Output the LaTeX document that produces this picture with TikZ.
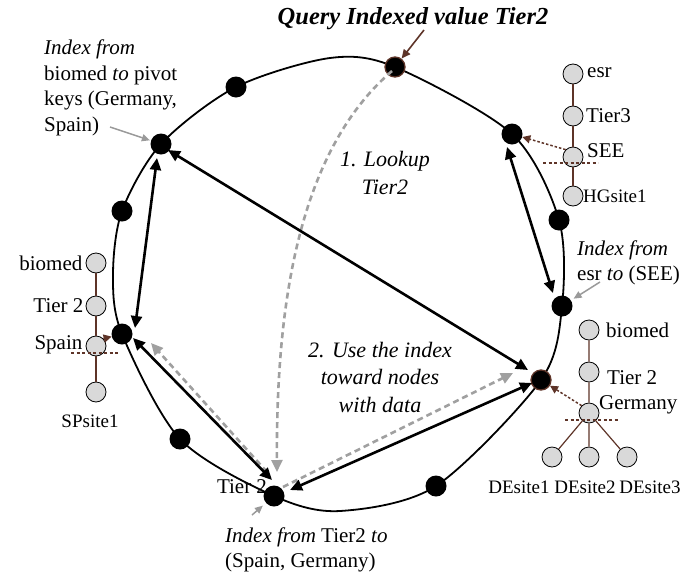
\documentclass[tikz,border=0pt]{standalone}
\usepackage{fontspec}
\setmainfont{Liberation Serif}
\usetikzlibrary{arrows.meta,calc}
\definecolor{brn}{HTML}{5E3428}
\definecolor{dashgray}{HTML}{A0A0A0}
\definecolor{ptrgray}{HTML}{9A9A9A}
\definecolor{leaf}{HTML}{D9D9D9}

\begin{document}
\begin{tikzpicture}[x=1pt,y=-1pt,
  ringdot/.style={circle,fill=black,minimum size=21pt,inner sep=0pt},
  hotdot/.style={circle,fill=black,draw=brn,line width=1.3pt,minimum size=20pt,inner sep=0pt},
  leafnode/.style={circle,fill=leaf,draw=black,line width=0.8pt,minimum size=20pt,inner sep=0pt},
  txt/.style={font=\fontsize{21}{25.5}\selectfont,inner sep=0pt},
  sitetxt/.style={font=\fontsize{19}{23}\selectfont,inner sep=0pt},
  steptxt/.style={font=\fontsize{22}{27.5}\selectfont\itshape,inner sep=0pt,align=center},
  bigarrow/.style={line width=2.6pt,{Triangle[length=12pt,width=11pt]}-{Triangle[length=12pt,width=11pt]}},
  graydash/.style={draw=dashgray,line width=2.6pt,dash pattern=on 6pt off 4pt,-{Triangle[length=12pt,width=11pt]}},
  pointer/.style={draw=ptrgray,line width=1.5pt,-{Triangle[length=8pt,width=7pt]}},
  brnarrow/.style={draw=brn,line width=1.6pt,-{Triangle[length=9pt,width=8pt]}},
  brndot/.style={draw=brn,line width=1.5pt,dash pattern=on 2.5pt off 2pt,-{Triangle[length=8pt,width=8pt]}},
  treeline/.style={draw=brn,line width=1.2pt},
  cutline/.style={draw=brn,line width=1.3pt,dash pattern=on 3pt off 2.5pt}
]
\useasboundingbox (0,0) rectangle (682,576);

% the ring
\draw[line width=1.8pt] plot[smooth cycle] coordinates {
  (161,144) (236,87) (330,58) (395,67) (512,134) (559,220) (562,306)
  (541,380) (436,486) (340,511) (274,496) (180,439) (122,334) (113,275) (122,211)};

% captions
\node[font=\fontsize{24.5}{29}\selectfont\bfseries\itshape,inner sep=0pt] (title) at (413,19) {Query Indexed value Tier2};
\node[steptxt] (step1) at (385,173) {1. Lookup\\Tier2};
\node[steptxt] (step2) at (380,377) {2. Use the index\\toward nodes\\with data};
\node[txt,anchor=west,align=left] (lblL) at (44,88) {\textit{Index from}\\biomed \textit{to} pivot\\keys (Germany,\\Spain)};
\node[txt,anchor=west,align=left] (lblR) at (577,263) {\textit{Index from}\\esr \textit{to} (SEE)};
\node[txt,anchor=west,align=left] (lblB) at (225,550) {\textit{Index from} Tier2 \textit{to}\\(Spain, Germany)};
\node[txt] (tierB) at (242,487) {Tier 2};

% peers on the ring
\node[ringdot] (nUL) at (161,144) {};
\node[ringdot] (nA)  at (236,87) {};
\node[hotdot]  (nT)  at (395,67) {};
\node[ringdot] (nUR) at (512,134) {};
\node[ringdot] (nC)  at (559,220) {};
\node[ringdot] (nE)  at (562,306) {};
\node[hotdot]  (nDE) at (541,380) {};
\node[ringdot] (nD)  at (436,486) {};
\node[ringdot] (nB)  at (274,496) {};
\node[ringdot] (nF)  at (180,439) {};
\node[ringdot] (nSP) at (122,334) {};
\node[ringdot] (nG)  at (122,211) {};

% lookup and forwarding (grey dashed)
\draw[graydash] ($(nT)+(-3,4)$) .. controls (300,150) and (276,300) .. ($(nB)+(3,-24)$);
\draw[graydash] ($(nB)+(-7,-24)$) -- ($(nSP)+(29,9)$);
\draw[graydash] ($(nB)+(9,-9)$) -- ($(nDE)+(-28,-7)$);

% index links (black)
\draw[bigarrow] ($(nUL)+(7,6)$) -- ($(nDE)+(-13,-10)$);
\draw[bigarrow] ($(nUL)+(-4,14)$) -- ($(nSP)+(13,-6)$);
\draw[bigarrow] ($(nSP)+(11,4)$) -- ($(nB)+(-2,-16)$);
\draw[bigarrow] ($(nB)+(16,-6)$) -- ($(nDE)+(-9,3)$);
\draw[bigarrow] ($(nUR)+(-5,13)$) -- ($(nE)+(-9,-13)$);

% pointers from captions
\coordinate (pT) at (424,30);
\coordinate (pL) at (110,127);
\coordinate (pR) at (600,282);
\coordinate (pB) at (252,515);
\draw[brnarrow] (pT) -- (nT);
\draw[pointer,shorten >=1pt] (pL) -- (nUL);
\draw[pointer,shorten >=3pt] (pR) -- (nE);
\draw[pointer,shorten >=4pt] (pB) -- (nB);

% biomed / Tier 2 / Spain tree
\node[leafnode] (lb1) at (96,263) {};
\node[leafnode] (lb2) at (96,306) {};
\node[leafnode] (lb3) at (96,346) {};
\node[leafnode] (lb4) at (96,392) {};
\draw[treeline] (lb1) -- (lb2) (lb2) -- (lb3) (lb3) -- (lb4);
\node[txt,anchor=east] (tl1) at ($(lb1.west)+(-3,0)$) {biomed};
\node[txt,anchor=east] (tl2) at ($(lb2.west)+(-2,0)$) {Tier 2};
\node[txt,anchor=east] (tl3) at ($(lb3.west)+(-3,-1)$) {Spain};
\node[sitetxt] (tl4) at (90,421) {SPsite1};
\draw[cutline] ($(lb3)+(-25,7)$) -- ($(lb3)+(24,7)$);
\draw[brndot] (lb3.north east) -- (nSP);

% esr / Tier3 / SEE tree
\node[leafnode] (te1) at (573,74) {};
\node[leafnode] (te2) at (573,116) {};
\node[leafnode] (te3) at (573,157) {};
\node[leafnode] (te4) at (573,196) {};
\draw[treeline] (te1) -- (te2) (te2) -- (te3) (te3) -- (te4);
\node[txt,anchor=west] (tr1) at (587,73) {esr};
\node[txt,anchor=west] (tr2) at (586,116) {Tier3};
\node[txt,anchor=west] (tr3) at (587,151) {SEE};
\node[sitetxt,anchor=west] (tr4) at (583,196) {HGsite1};
\draw[cutline] ($(te3)+(-30,6)$) -- ($(te3)+(25,6)$);
\draw[brndot] (te3.north west) -- (nUR);

% biomed / Tier 2 / Germany tree
\node[leafnode] (tg1) at (589,330) {};
\node[leafnode] (tg2) at (589,372) {};
\node[leafnode] (tg3) at (589,413) {};
\node[leafnode] (tc1) at (552,457) {};
\node[leafnode] (tc2) at (589,457) {};
\node[leafnode] (tc3) at (627,457) {};
\draw[treeline] (tg1) -- (tg2) (tg2) -- (tg3) (tg3) -- (tc1) (tg3) -- (tc2) (tg3) -- (tc3);
\node[txt,anchor=west] (gl1) at (606,330) {biomed};
\node[txt,anchor=west] (gl2) at (607,378) {Tier 2};
\node[txt,anchor=west] (gl3) at (599,405) {Germany};
\node[sitetxt] (gs1) at (519,487) {DEsite1};
\node[sitetxt] (gs2) at (585,487) {DEsite2};
\node[sitetxt] (gs3) at (650,487) {DEsite3};
\draw[cutline] ($(tg3)+(-24,7)$) -- ($(tg3)+(30,7)$);
\draw[brndot] (tg3.north west) -- (nDE);
\end{tikzpicture}
\end{document}
